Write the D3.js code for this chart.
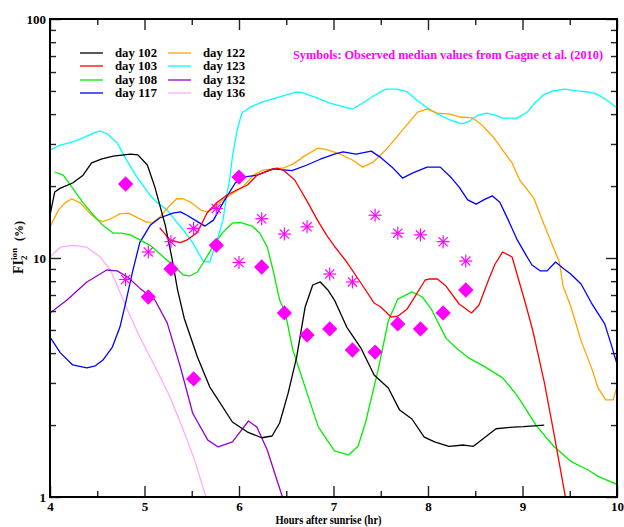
<!DOCTYPE html>
<html><head><meta charset="utf-8">
<script src="https://cdn.jsdelivr.net/npm/d3@7"></script>
<style>
html,body{margin:0;padding:0;background:#fff;}
svg{display:block;font-family:"Liberation Serif","Times New Roman",serif;font-weight:bold;}
</style></head>
<body>
<svg id="chart" width="624" height="527"></svg>
<script>
// ---- data (hours after sunrise, FI2ion %) ----
const day102 = [[4.00,15.1],[4.05,18.9],[4.11,19.6],[4.24,20.6],[4.35,22.2],[4.44,25.0],[4.55,26.0],[4.67,26.7],[4.85,27.2],[4.93,27.0],[5.03,24.5],[5.11,19.8],[5.22,13.7],[5.29,10.0],[5.35,7.35],[5.42,5.6],[5.56,3.85],[5.69,2.89],[5.93,2.06],[6.09,1.87],[6.24,1.77],[6.35,1.80],[6.43,2.04],[6.52,2.72],[6.61,3.85],[6.70,6.24],[6.78,7.71],[6.86,7.94],[6.94,7.35],[7.01,6.67],[7.14,5.14],[7.29,4.20],[7.43,3.24],[7.58,2.86],[7.70,2.31],[7.83,2.12],[7.96,1.78],[8.07,1.70],[8.22,1.63],[8.38,1.65],[8.48,1.63],[8.58,1.75],[8.72,1.93],[8.90,1.96],[9.01,1.97],[9.23,2.00]];
const day103 = [[5.16,13.4],[5.27,11.9],[5.38,11.6],[5.45,11.9],[5.56,12.8],[5.66,15.4],[5.77,17.1],[5.87,18.3],[5.98,19.3],[6.09,20.2],[6.19,22.2],[6.33,23.3],[6.40,23.8],[6.47,23.3],[6.59,21.2],[6.65,19.3],[6.72,17.3],[6.83,14.4],[6.93,12.4],[7.01,11.2],[7.14,9.62],[7.29,7.86],[7.43,6.48],[7.50,6.24],[7.61,5.66],[7.68,5.71],[7.78,6.12],[7.86,6.87],[7.97,8.09],[8.02,8.17],[8.10,8.17],[8.19,7.63],[8.33,6.42],[8.46,5.89],[8.54,6.36],[8.64,8.09],[8.71,9.44],[8.79,10.6],[8.89,10.1],[9.03,6.48],[9.11,4.95],[9.23,3.03],[9.33,1.87],[9.46,0.97]];
const day108 = [[4.05,22.9],[4.14,22.2],[4.24,19.6],[4.35,17.0],[4.46,15.1],[4.56,13.7],[4.67,12.7],[4.76,12.7],[4.85,12.5],[4.95,11.9],[5.06,11.3],[5.20,10.1],[5.30,9.35],[5.41,8.49],[5.48,8.41],[5.56,8.74],[5.62,9.53],[5.69,10.6],[5.77,11.9],[5.83,12.8],[5.93,14.0],[6.01,14.1],[6.14,13.6],[6.22,12.7],[6.30,11.1],[6.36,8.91],[6.43,6.67],[6.49,5.89],[6.57,4.12],[6.72,2.72],[6.84,1.96],[7.01,1.56],[7.16,1.50],[7.26,1.63],[7.34,2.06],[7.47,3.37],[7.58,5.45],[7.68,6.73],[7.83,7.21],[7.94,6.87],[8.04,6.06],[8.19,4.62],[8.30,4.20],[8.43,3.82],[8.59,3.53],[8.79,3.15],[8.94,2.67],[9.15,1.98],[9.33,1.63],[9.51,1.41],[9.69,1.30],[9.80,1.22],[10.0,1.13]];
const day117 = [[4.00,4.67],[4.11,4.01],[4.24,3.57],[4.39,3.47],[4.48,3.54],[4.56,3.74],[4.66,4.24],[4.74,5.14],[4.80,6.48],[4.87,8.65],[4.95,11.6],[5.06,13.7],[5.16,14.7],[5.30,15.4],[5.38,15.6],[5.45,15.1],[5.56,14.2],[5.64,13.6],[5.73,14.4],[5.83,17.0],[5.96,20.6],[6.04,21.8],[6.19,22.2],[6.36,23.6],[6.56,23.2],[6.72,24.5],[6.86,25.9],[7.01,27.2],[7.10,27.8],[7.24,27.2],[7.40,28.0],[7.49,26.5],[7.62,24.0],[7.73,21.6],[7.84,22.7],[7.99,24.0],[8.13,24.0],[8.25,21.6],[8.33,19.8],[8.42,17.5],[8.51,16.8],[8.59,17.5],[8.68,18.2],[8.76,17.1],[8.85,14.4],[8.94,12.0],[9.03,10.4],[9.10,9.35],[9.19,8.83],[9.26,8.83],[9.35,9.62],[9.44,9.00],[9.51,8.57],[9.62,7.78],[9.73,6.48],[9.87,5.30],[9.94,4.33],[10.0,3.6]];
const day122 = [[4.00,13.5],[4.09,15.9],[4.16,17.0],[4.23,17.7],[4.32,17.0],[4.42,15.4],[4.51,14.4],[4.56,14.2],[4.66,14.7],[4.74,15.3],[4.83,15.4],[4.92,14.8],[5.01,14.2],[5.08,14.0],[5.16,14.8],[5.25,16.3],[5.34,17.7],[5.41,17.7],[5.50,17.0],[5.59,15.9],[5.66,15.6],[5.73,16.2],[5.83,17.5],[5.94,18.7],[6.04,19.8],[6.15,22.2],[6.25,23.3],[6.36,23.6],[6.47,23.8],[6.57,24.7],[6.68,26.5],[6.83,28.8],[6.93,28.4],[7.07,27.2],[7.20,25.7],[7.31,24.0],[7.42,25.2],[7.57,28.8],[7.73,34.3],[7.89,40.8],[7.99,42.0],[8.10,40.4],[8.23,40.0],[8.34,38.9],[8.47,38.6],[8.57,36.0],[8.69,32.1],[8.79,28.3],[8.89,25.0],[8.97,21.2],[9.12,17.8],[9.21,14.4],[9.29,12.0],[9.39,9.62],[9.43,7.6],[9.51,6.3],[9.62,4.50],[9.73,3.47],[9.80,2.86],[9.88,2.55],[9.96,2.55],[10.0,2.9]];
const day123 = [[4.00,28.3],[4.11,29.7],[4.24,30.6],[4.35,31.8],[4.46,33.3],[4.53,34.0],[4.61,33.0],[4.71,30.3],[4.79,26.5],[4.92,21.8],[5.06,18.3],[5.13,17.1],[5.24,15.9],[5.30,14.8],[5.41,13.1],[5.51,11.6],[5.62,9.71],[5.69,9.62],[5.77,11.9],[5.83,14.4],[5.87,18.3],[5.90,21.2],[5.93,26.5],[5.98,34.3],[6.03,40.4],[6.12,42.8],[6.25,45.0],[6.43,47.2],[6.61,49.5],[6.68,49.1],[6.83,46.7],[6.96,44.5],[7.07,43.3],[7.20,42.0],[7.31,44.5],[7.44,48.1],[7.55,50.9],[7.67,50.9],[7.78,49.5],[7.88,45.8],[7.99,42.5],[8.10,40.1],[8.23,37.8],[8.36,36.4],[8.44,37.4],[8.53,39.6],[8.62,40.4],[8.71,39.6],[8.79,38.5],[8.94,38.5],[9.05,40.8],[9.13,44.5],[9.22,48.1],[9.32,50.0],[9.45,50.9],[9.58,50.0],[9.69,49.5],[9.79,48.5],[9.89,45.8],[10.0,42.5]];
const day132 = [[4.00,5.89],[4.18,6.67],[4.39,7.94],[4.60,8.91],[4.71,8.83],[4.82,8.33],[4.95,7.48],[5.11,6.67],[5.24,5.35],[5.38,3.50],[5.51,2.24],[5.67,1.73],[5.78,1.62],[5.93,1.70],[6.01,1.87],[6.10,2.08],[6.19,1.96],[6.30,1.57],[6.40,1.18],[6.46,1.00]];
const day136 = [[4.00,10.1],[4.11,11.1],[4.24,11.3],[4.39,11.1],[4.53,10.1],[4.64,8.91],[4.82,6.06],[4.95,4.67],[5.13,3.40],[5.27,2.62],[5.40,1.96],[5.53,1.43],[5.65,1.00]];

const obsHours = [4.80,5.04,5.28,5.52,5.76,6.00,6.24,6.48,6.72,6.96,7.20,7.44,7.68,7.92,8.16,8.40];
const obsDiamond = [20.4,6.87,9.00,3.12,11.3,21.8,9.17,5.89,4.76,5.05,4.12,4.04,5.30,5.05,5.89,7.35];
const obsAsterisk = [8.13,10.6,11.7,13.3,16.1,9.58,14.6,12.6,13.5,8.57,7.94,15.1,12.7,12.5,11.7,9.71];

const seriesNames = ["day 102","day 103","day 108","day 117","day 122","day 123","day 132","day 136"];
const seriesData = [day102,day103,day108,day117,day122,day123,day132,day136];
const seriesColors = ["#000000","#ff0000","#00ee00","#0000ff","#ffa500","#00ffff","#9400d3","#ffaaff"];

const xMajor = [4,5,6,7,8,9,10];
const xMinor = [4.5,5.5,6.5,7.5,8.5,9.5];
const yMajor = [1,10,100];
const yMinor = [2,3,4,5,6,7,8,9,20,30,40,50,60,70,80,90];

// ---- layout ----
const L=50,R=617,T=19,B=497;
const svg = d3.select("#chart");
const x = d3.scaleLinear().domain([4,10]).range([L,R]);
const y = d3.scaleLog().domain([1,100]).range([B,T]);

svg.append("defs").append("clipPath").attr("id","plotclip")
  .append("rect").attr("x",L).attr("y",T).attr("width",R-L).attr("height",B-T);

const plot = svg.append("g").attr("clip-path","url(#plotclip)");
const line = d3.line().x(d=>x(d[0])).y(d=>y(d[1]));

const drawOrder = [7,6,5,4,3,2,1,0];
drawOrder.forEach(i=>{
  plot.append("path").datum(seriesData[i]).attr("d",line)
    .attr("fill","none").attr("stroke",seriesColors[i]).attr("stroke-width",1.3)
    .attr("stroke-linejoin","round");
});

// symbols
const mag = "#ff00ff";
plot.selectAll(".dia").data(obsHours.map((h,i)=>[h,obsDiamond[i]])).join("path")
  .attr("class","dia")
  .attr("d",d3.symbol().type(d3.symbolDiamond2).size(150))
  .attr("transform",d=>`translate(${x(d[0])},${y(d[1])})`)
  .attr("fill",mag);
const star = plot.selectAll(".star").data(obsHours.map((h,i)=>[h,obsAsterisk[i]])).join("g")
  .attr("class","star")
  .attr("transform",d=>`translate(${x(d[0])},${y(d[1])})`);
[0,45,90,135].forEach(a=>{
  star.append("line").attr("x1",-6.5).attr("x2",6.5).attr("y1",0).attr("y2",0)
    .attr("transform",`rotate(${a})`).attr("stroke",mag).attr("stroke-width",1.2);
});

// ---- axes ----
const tickColor = "#222";
function styleAxis(g){ g.select(".domain").remove(); g.selectAll(".tick line").attr("stroke",tickColor).attr("stroke-width",1.4); g.selectAll("text").attr("font-size",13).attr("font-weight","bold").attr("fill","#000").attr("font-family","Liberation Serif, serif"); }

svg.append("g").attr("transform",`translate(0,${B})`)
  .call(d3.axisBottom(x).tickValues(xMajor).tickFormat(d3.format("d")).tickSizeInner(-11).tickSizeOuter(0).tickPadding(5)).call(styleAxis);
svg.append("g").attr("transform",`translate(0,${B})`)
  .call(d3.axisBottom(x).tickValues(xMinor).tickFormat("").tickSizeInner(-6).tickSizeOuter(0)).call(styleAxis);
svg.append("g").attr("transform",`translate(0,${T})`)
  .call(d3.axisTop(x).tickValues(xMajor).tickFormat("").tickSizeInner(-11).tickSizeOuter(0)).call(styleAxis);
svg.append("g").attr("transform",`translate(0,${T})`)
  .call(d3.axisTop(x).tickValues(xMinor).tickFormat("").tickSizeInner(-6).tickSizeOuter(0)).call(styleAxis);

svg.append("g").attr("transform",`translate(${L},0)`)
  .call(d3.axisLeft(y).tickValues(yMajor).tickFormat(d3.format("d")).tickSizeInner(-11).tickSizeOuter(0).tickPadding(4)).call(styleAxis);
svg.append("g").attr("transform",`translate(${L},0)`)
  .call(d3.axisLeft(y).tickValues(yMinor).tickFormat("").tickSizeInner(-6).tickSizeOuter(0)).call(styleAxis);
svg.append("g").attr("transform",`translate(${R},0)`)
  .call(d3.axisRight(y).tickValues(yMajor).tickFormat("").tickSizeInner(-11).tickSizeOuter(0)).call(styleAxis);
svg.append("g").attr("transform",`translate(${R},0)`)
  .call(d3.axisRight(y).tickValues(yMinor).tickFormat("").tickSizeInner(-6).tickSizeOuter(0)).call(styleAxis);

// frame
svg.append("rect").attr("x",L).attr("y",T).attr("width",R-L).attr("height",B-T)
  .attr("fill","none").attr("stroke","#000").attr("stroke-width",2);

// axis titles
svg.append("text").attr("x",(L+R)/2-5).attr("y",524).attr("text-anchor","middle")
  .attr("font-size",12).attr("textLength",106).attr("lengthAdjust","spacingAndGlyphs")
  .text("Hours after sunrise (hr)");

const yl = svg.append("g").attr("transform","translate(23,274) rotate(-90)");
yl.append("text").attr("x",0).attr("y",0).attr("font-size",14).text("FI");
yl.append("text").attr("x",14).attr("y",4).attr("font-size",9).text("2");
yl.append("text").attr("x",14).attr("y",-6).attr("font-size",9).text("ion");
yl.append("text").attr("x",33).attr("y",0).attr("font-size",12).text("(%)");

// legend
const legRows = [53,66,80,93];
seriesNames.forEach((n,i)=>{
  const col = Math.floor(i/4), row = i%4;
  const lx = col===0 ? 80 : 168;
  const ty = legRows[row];
  svg.append("line").attr("x1",lx).attr("x2",lx+23).attr("y1",ty).attr("y2",ty)
    .attr("stroke",seriesColors[i]).attr("stroke-width",1.3);
  svg.append("text").attr("x",lx+35).attr("y",ty+4).attr("font-size",12.5)
    .attr("textLength",42).attr("lengthAdjust","spacingAndGlyphs").text(n);
});

svg.append("text").attr("x",293).attr("y",58.5).attr("font-size",13).attr("fill",mag)
  .attr("textLength",310).attr("lengthAdjust","spacingAndGlyphs")
  .text("Symbols: Observed median values from Gagne et al. (2010)");
</script>
</body></html>
